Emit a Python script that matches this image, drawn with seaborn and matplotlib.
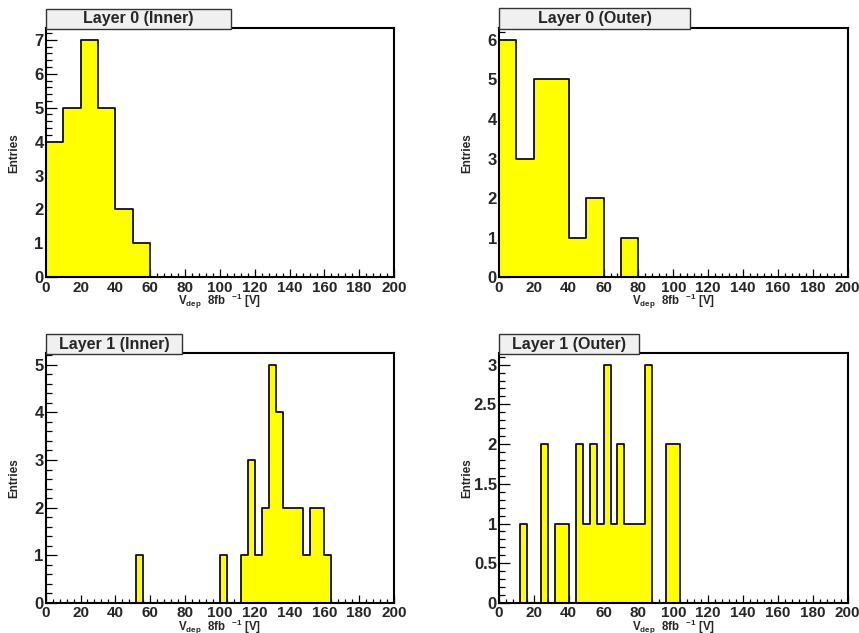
import numpy as np
import pandas as pd
import matplotlib
matplotlib.use("Agg")
import matplotlib.pyplot as plt
import seaborn as sns
from matplotlib.patches import Rectangle
from matplotlib.ticker import MultipleLocator, FormatStrFormatter

# ---------------- data ----------------
panel_titles = ["Layer 0 (Inner)", "Layer 0 (Outer)", "Layer 1 (Inner)", "Layer 1 (Outer)"]
x_min, x_max = 0, 200
bin_width_layer0 = 10
bin_width_layer1 = 4

layer0_inner = [4, 5, 7, 5, 2, 1, 0, 0, 0, 0,
                0, 0, 0, 0, 0, 0, 0, 0, 0, 0]
layer0_outer = [6, 3, 5, 5, 1, 2, 0, 1, 0, 0,
                0, 0, 0, 0, 0, 0, 0, 0, 0, 0]
layer1_inner = [0, 0, 0, 0, 0, 0, 0, 0, 0, 0,
                0, 0, 0, 1, 0, 0, 0, 0, 0, 0,
                0, 0, 0, 0, 0, 1, 0, 0, 1, 3,
                1, 2, 5, 4, 2, 2, 2, 1, 2, 2,
                1, 0, 0, 0, 0, 0, 0, 0, 0, 0]
layer1_outer = [0, 0, 0, 1, 0, 0, 2, 0, 1, 1,
                0, 2, 1, 2, 1, 3, 1, 2, 1, 1,
                1, 3, 0, 0, 2, 2, 0, 0, 0, 0,
                0, 0, 0, 0, 0, 0, 0, 0, 0, 0,
                0, 0, 0, 0, 0, 0, 0, 0, 0, 0]
y_major_steps = [1, 1, 1, 0.5]
x_tick_labels = [str(v) for v in range(0, 201, 20)]

# ---------------- style ----------------
sns.set_theme(style="white")
plt.rcParams["font.family"] = ["Liberation Sans", "DejaVu Sans"]
plt.rcParams["font.weight"] = "bold"
plt.rcParams["mathtext.fontset"] = "custom"
plt.rcParams["mathtext.bf"] = "Liberation Sans:bold"
plt.rcParams["mathtext.rm"] = "Liberation Sans"
plt.rcParams["mathtext.it"] = "Liberation Sans:italic"

W, H = 859, 633
fig = plt.figure(figsize=(W / 100, H / 100), dpi=100)
fig.patch.set_facecolor("white")

# axes rectangles in pixels: (left, top, right, bottom)
rects = [(45.7, 28.0, 394.0, 277.3),
         (499.0, 28.0, 847.5, 277.3),
         (45.7, 352.7, 394.0, 603.0),
         (499.0, 352.7, 847.5, 603.0)]
title_box_w = [185.3, 191.0, 136.3, 139.7]
title_box_y = [(9, 29), (8, 29), (334, 354), (334, 354)]

series = [layer0_inner, layer0_outer, layer1_inner, layer1_outer]
widths = [bin_width_layer0, bin_width_layer0, bin_width_layer1, bin_width_layer1]

xlabel = r"$\mathbf{V}_{\mathbf{dep}}\ \ \mathbf{8fb}\ \ {}^{\mathbf{-1}}\ \mathbf{[V]}$"

for i in range(4):
    l, t, r, b = rects[i]
    ax = fig.add_axes([l / W, 1 - b / H, (r - l) / W, (b - t) / H])
    counts = [float(c) for c in series[i]]
    bw = widths[i]
    centers = [x_min + bw * (k + 0.5) for k in range(len(counts))]
    df = pd.DataFrame({"V": centers, "n": counts})
    sns.histplot(data=df, x="V", weights="n", binwidth=bw, binrange=(x_min, x_max),
                 element="step", fill=True, color="#ffff00", alpha=1.0,
                 edgecolor="#111111", linewidth=1.3, ax=ax)
    ymax = max(counts) * 1.05
    ax.set_xlim(x_min, x_max)
    ax.set_ylim(0, ymax)

    ax.set_xticks(range(0, 201, 20))
    ax.set_xticklabels(x_tick_labels)
    ax.xaxis.set_minor_locator(MultipleLocator(4))
    ax.yaxis.set_major_locator(MultipleLocator(y_major_steps[i]))
    ax.yaxis.set_minor_locator(MultipleLocator(y_major_steps[i] / 5))
    ax.yaxis.set_major_formatter(FormatStrFormatter("%g"))

    ax.tick_params(axis="x", which="major", direction="in", length=5.5, width=0.9,
                   labelsize=11, pad=2.5, bottom=True, top=False, color="black")
    ax.tick_params(axis="x", which="minor", direction="in", length=2.8, width=0.9,
                   bottom=True, top=False, color="black")
    ax.tick_params(axis="y", which="major", direction="in", length=8, width=0.9,
                   labelsize=12, pad=1.5, left=True, right=False, color="black")
    ax.tick_params(axis="y", which="minor", direction="in", length=4.3, width=0.9,
                   left=True, right=False, color="black")
    for lab in ax.get_xticklabels() + ax.get_yticklabels():
        lab.set_fontweight("bold")

    for sp in ax.spines.values():
        sp.set_color("black")
        sp.set_linewidth(1.5)

    ax.set_xlabel(xlabel, fontsize=8.3)
    ax.set_ylabel("Entries", fontsize=8.5, fontweight="bold")
    ax.xaxis.set_label_coords(0.5, -14.5 / (b - t))
    ax.yaxis.set_label_coords(-(45.7 - 20) / (r - l), 0.5)
    ax.set_facecolor("white")

    # ROOT-like title box
    by0, by1 = title_box_y[i]
    box = Rectangle((l / W, 1 - by1 / H), title_box_w[i] / W, (by1 - by0) / H,
                    transform=fig.transFigure, facecolor="#f0f0f0",
                    edgecolor="#333333", linewidth=1.0, zorder=5)
    fig.patches.append(box)
    fig.text((l + title_box_w[i] / 2) / W, 1 - (by0 + by1) / 2 / H, panel_titles[i],
             ha="center", va="center", fontsize=11.5, fontweight="bold", zorder=6)

fig.savefig("out.png", dpi=100, facecolor="white")
